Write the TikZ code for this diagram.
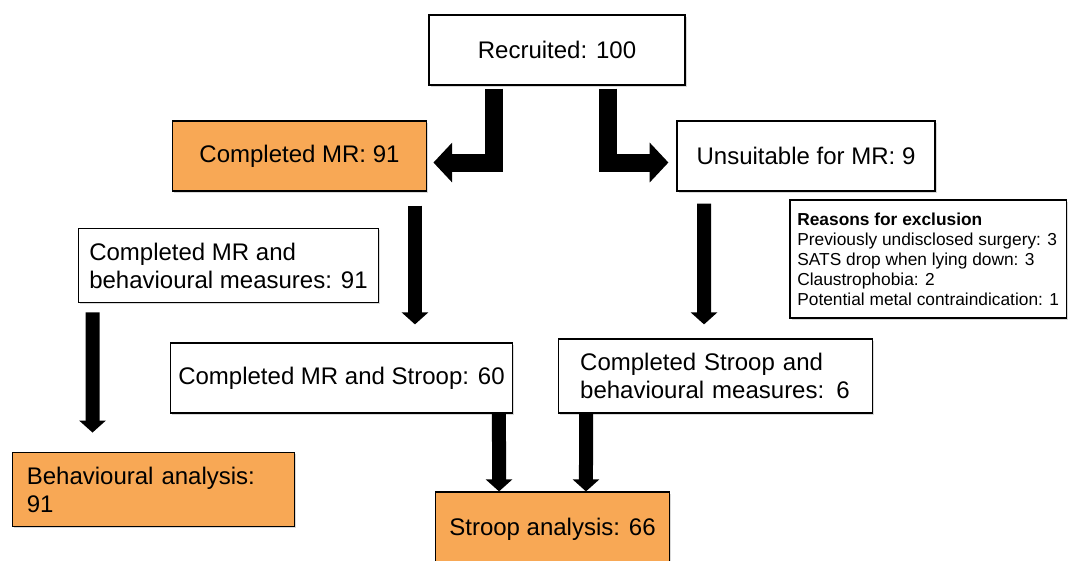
\documentclass[tikz,border=0pt]{standalone}
\usepackage{fontspec}
\setmainfont{Liberation Sans}
\usetikzlibrary{arrows.meta,shadows}

\definecolor{studyorange}{RGB}{248,168,85}

\begin{document}
\begin{tikzpicture}[x=0.75pt,y=-0.75pt,
	flowbox/.style={draw=black,line width=0.9pt,fill=white,inner sep=0pt,
		font=\fontsize{18}{21}\selectfont,
		drop shadow={shadow xshift=1.2pt,shadow yshift=-1.2pt,opacity=0.3}},
	donebox/.style={flowbox,fill=studyorange},
	downarrow/.style={line width=10.5pt,-{Triangle[width=19.5pt,length=9pt]}},
	bendarrow/.style={line width=13.5pt,line join=miter,-{Triangle[width=29pt,length=14pt]}}]

\useasboundingbox (0,0) rectangle (1069,560);

% boxes
\node[flowbox,minimum width=192pt,minimum height=52.5pt] (rec) at (557,50) {Recruited: 100};
\node[donebox,minimum width=191pt,minimum height=52.5pt] (mr) at (299.5,156) {Completed MR: 91};
\node[flowbox,minimum width=193.5pt,minimum height=52.5pt] (uns) at (806,156) {Unsuitable for MR: 9};

\node[flowbox,anchor=west,inner xsep=8pt,align=left,minimum height=56pt] (cmb) at (78,265.5)
	{Completed MR and\\behavioural measures: 91};

\node[flowbox,anchor=east,align=left,inner xsep=5.5pt,minimum height=88.5pt,
	font=\fontsize{13}{15}\selectfont] (rsn) at (1067,259)
	{\textbf{Reasons for exclusion}\\
	Previously undisclosed surgery: 3\\
	SATS drop when lying down: 3\\
	Claustrophobia: 2\\
	Potential metal contraindication: 1};

\node[flowbox,minimum width=257pt,minimum height=52.5pt] (s60) at (341.5,378) {Completed MR and Stroop: 60};
\node[flowbox,text width=203pt,inner xsep=16.5pt,align=left,minimum height=55.5pt] (sb6) at (715.5,376)
	{Completed Stroop and\\behavioural measures: 6};

\node[donebox,text width=190pt,inner xsep=10.5pt,align=left,minimum height=56pt] (ba) at (153.5,489.5)
	{Behavioural analysis:\\91};
\node[donebox,minimum width=176pt,minimum height=55.5pt] (s66) at (552.5,529) {Stroop analysis: 66};

% arrows
\draw[bendarrow,shorten <=2.25pt,shorten >=4.5pt]
	([xshift=-47.25pt]rec.south) |- ([yshift=-4.9pt]mr.east);
\draw[bendarrow,shorten <=2.25pt,shorten >=6pt]
	([xshift=38.25pt]rec.south) |- ([yshift=-4.9pt]uns.west);

\draw[downarrow,shorten <=10.5pt,shorten >=13.5pt]
	([xshift=86.6pt]mr.south) -- ([xshift=55.1pt]s60.north);
\draw[downarrow,shorten <=9pt,shorten >=10.5pt]
	([xshift=-76.5pt]uns.south) -- ([xshift=-8.6pt]sb6.north);
\draw[downarrow,shorten <=6.75pt,shorten >=14.25pt]
	([xshift=10.9pt]cmb.south west) -- ([xshift=-45.75pt]ba.north);

\draw[downarrow] ([xshift=118.1pt]s60.south) -- ([xshift=-40.1pt]s66.north);
\draw[downarrow] ([xshift=-97.1pt]sb6.south) -- ([xshift=25.1pt]s66.north);

\end{tikzpicture}
\end{document}
